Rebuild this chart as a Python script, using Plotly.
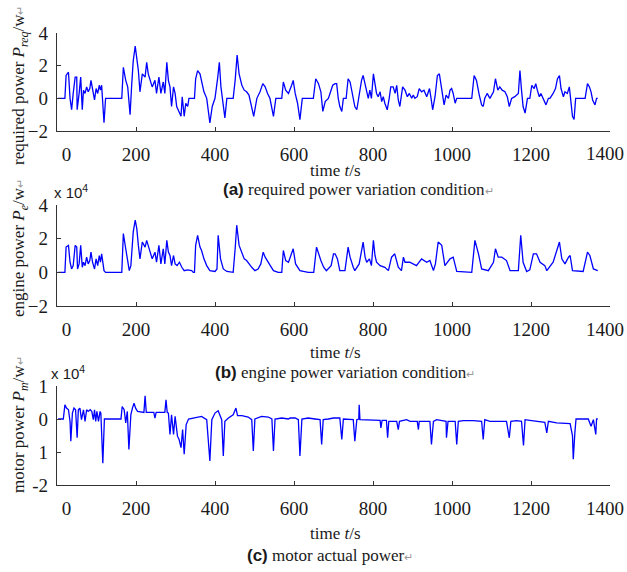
import plotly.graph_objects as go

# ---- data, power in units of 1e4 W ----
t_req = [3, 20, 23, 29, 33, 37, 41, 46, 50, 51, 56, 60, 64, 67, 71, 75, 79, 83, 86, 90, 95, 99, 103, 107, 110, 113, 119, 123, 164,
         168, 174, 179, 185, 189, 193, 198, 202, 206, 210, 216, 223, 227, 231, 235, 241, 248, 252, 258, 263, 269, 273, 278, 282,
         286, 290, 295, 299, 303, 309, 314, 317, 322, 326, 331, 334, 348,
         351, 356, 362, 366, 372, 379, 387, 393, 400, 407, 411, 415, 421, 425, 430, 446, 451, 456, 461, 468, 474, 480, 486, 493,
         498, 506, 514, 521, 527, 533, 539, 548, 554, 569, 573, 579, 586, 594, 598, 603, 609, 615, 621, 649, 655, 662, 668, 673,
         679, 687, 698, 704,
         708, 712, 716, 721, 725, 732, 737, 742, 746, 750, 754, 759, 765, 771, 775, 780, 784, 788, 792, 796, 801, 805, 809, 813,
         818, 822, 826, 830, 836, 841, 845, 851, 856, 860, 864, 868, 875, 881, 887, 892, 898, 902, 906, 912, 917, 923, 929, 936,
         943, 947, 951, 957, 963, 968, 972, 976, 980, 985, 991, 995, 999, 1003, 1008, 1012, 1050, 1056, 1062, 1069, 1075, 1079,
         1083, 1089, 1096, 1105, 1110, 1116, 1121, 1127, 1134, 1140, 1145, 1151, 1159, 1168, 1172, 1176, 1180, 1185, 1191, 1197,
         1202, 1208, 1212, 1216, 1221, 1225, 1231, 1238, 1244, 1248, 1256, 1262, 1267, 1272, 1276, 1282, 1286, 1292, 1297, 1300,
         1305, 1309, 1313, 1337, 1343, 1348, 1352, 1356, 1362, 1366, 1369]
p_req = [0, 0, 1.4, 1.6, 0, -0.7, 0.3, 1.3, 1.3, -0.7, 0.3, 1.3, -0.7, 0.5, 0.3, 0.7, 0.4, 0.6, 1.1, 0.5, -0.1, 0.6, 0.3, 0.8, 0.5, 0.8, -1.5, 0, 0,
         1.9, 1.1, 0.7, -1.0, 0.8, 2.3, 3.2, 2.5, 1.7, 0.4, 1.5, 1.3, 2.2, 1.5, 1.2, 0.7, 1.1, 0.3, 1.3, 0.3, 1.0, 0.3, 2.2, 1.1,
         0.7, -0.5, 0.7, 0.3, -0.5, -0.8, -1.1, 0.1, -1.1, -0.3, -0.5, 0, 0,
         1.2, 1.7, 1.5, 1.0, 0.4, 0, -1.5, -0.5, 0, 1.3, 2.2, 0.7, -0.3, -1.2, 0, 0, 1.1, 2.65, 1.5, 0.8, 0.5, 0.4, 0.2, -0.5,
         -1.1, 0, 0.4, 0.9, 0.7, 0.3, 0, -1.1, 0, 0, 1.0, 0.5, 0.3, 0.8, 1.1, 0.3, -0.3, -1.3, 0, 0, 1.2, 0.9, 0.4, -0.8,
         -0.2, 0, 0.8, 0.9,
         0.9, 0, -0.5, -0.8, 0, 0, 1.2, 1.0, 0.5, 0, -0.5, -0.7, 0.3, 1.1, 1.4, 0.8, 0.3, 0, 0.5, 0, 1.5, 0.8, 0.3, 0.1,
         0.4, -0.2, 0.1, -0.3, -0.7, 0, 0.7, 0.7, 0.3, 0.8, -0.1, -0.5, 0.7, 0.5, 0.1, 0.3, 0, 0.2, 0, 0.1, 0.6, 0.4, 0.5, 0.1,
         0.6, 0, -0.7, 0.1, 1.4, 1.5, 0.8, 0, -0.4, 0.2, 0, 0.5, 0.6, 0.3, -0.3, 0, 0, 1.4, 1.1, 0.2, -0.4, -0.5,
         0, 0.3, 0, 0.4, 1.2, 0.5, 0.7, 0.5, 0.4, 0.1, -0.5, 0, 0.1, 0.3, 1.7, 0.5, -0.5, -0.9, 0, 0,
         0.8, 0.6, 0.9, 0.5, 0.1, 0.3, 0, -0.4, 0, 0, 0.3, 0.6, 1.2, 1.4, 0.6, 0.1, 0.4, 0.3, 0.7, 0.1,
         -1.1, -1.3, 0, 0, 0.9, 0.7, 0.4, -0.1, -0.4, 0, 0]

t_eng = [3, 20, 23, 29, 33, 37, 41, 46, 50, 52, 56, 60, 64, 67, 71, 75, 79, 83, 86, 90, 95, 99, 103, 107, 110, 113, 119, 123, 164,
         168, 174, 179, 183, 187, 193, 198, 202, 206, 210, 216, 223, 227, 231, 235, 241, 248, 252, 258, 263, 269, 273, 278, 282,
         286, 290, 295, 299, 304, 310, 316, 322, 330, 341, 345, 348, 351, 356, 362, 366, 372, 379, 387, 400, 405, 408, 414, 421,
         430, 446, 451, 455, 461, 468, 474, 480, 486, 493, 501, 509, 516, 522, 527, 534, 540, 548, 560, 569, 573, 579, 586, 592,
         598, 604, 609, 615, 636, 650, 657, 662, 668, 675, 682, 694, 700, 704, 710, 716, 729, 737, 742, 750, 754, 765, 771, 775,
         780, 784, 791, 796, 801, 805, 809, 818, 830, 839, 847, 855, 864, 872, 877, 881, 893, 910, 923, 936, 944, 953, 958, 965,
         974, 982, 995, 1003, 1012, 1050, 1058, 1067, 1075, 1092, 1105, 1110, 1117, 1126, 1138, 1147, 1168, 1174, 1180, 1189,
         1197, 1206, 1214, 1223, 1235, 1240, 1256, 1265, 1272, 1278, 1286, 1295, 1299, 1305, 1332, 1343, 1349, 1358, 1366, 1369]
p_eng = [0, 0, 1.5, 1.6, 0.6, 0.2, 0.4, 1.6, 1.5, 0.2, 0.5, 1.6, 0.3, 0.6, 0.4, 0.9, 0.5, 0.7, 1.2, 0.6, 0.2, 0.8, 0.4, 1.0, 0.6, 1.1, 0.1, 0, 0,
         2.3, 1.4, 0.6, 0.1, 0.4, 2.4, 3.1, 2.6, 1.6, 0.8, 1.8, 1.5, 1.9, 1.6, 1.3, 0.8, 1.2, 0.6, 1.6, 0.5, 1.4, 0.5, 1.9, 1.2,
         1.0, 0.4, 1.0, 0.5, 0.4, 0.6, 0.3, 0.1, 0.15, 0.1, 0, 0, 1.6, 2.2, 1.5, 1.3, 0.8, 0.4, 0.1, 0.05, 0.2, 2.2, 0.8, 0.2,
         0.05, 0, 1.4, 2.8, 1.6, 1.1, 0.8, 0.7, 0.5, 0.3, 0.1, 0.2, 0.5, 1.2, 0.9, 0.6, 0.4, 0.1, 0, 0, 1.3, 0.7, 0.6, 1.0,
         1.4, 0.5, 0.3, 0.1, 0, 0, 1.5, 1.1, 0.7, 0.3, 0.1, 0.4, 1.1, 1.1, 0.8, 0.1, 0.1, 1.5, 0.9, 0.3, 0.1, 0.5, 1.2, 1.8,
         0.9, 0.6, 0.8, 0.4, 1.9, 1.0, 0.6, 0.4, 0.3, 0.1, 0.9, 1.1, 0.3, 0.1, 0.9, 0.6, 0.6, 0.4, 0.8, 0.6, 0.7, 0.1, 0.5, 1.8,
         1.6, 0.4, 0.8, 0.9, 0.05, 0, 1.9, 1.1, 0.2, 0.1, 0.6, 1.4, 0.9, 0.9, 0.7, 0.1, 0.1, 2.2, 0.6, 0.05,
         0.15, 1.1, 1.1, 0.6, 0.4, 0.1, 0.6, 1.3, 1.8, 0.8, 0.5, 0.9, 1.0, 0.1, 0.05, 1.2, 1.0, 0.2, 0.1, 0.1]

t_mot = [3, 16, 20, 24, 29, 33, 35, 39, 43, 47, 51, 54, 58, 62, 67, 71, 75, 79, 84, 88, 92, 95, 98, 101, 105, 109, 111, 116, 120,
         162, 165, 170, 174, 178, 182, 187, 191, 195, 199, 204, 220, 223, 226, 245, 248, 251, 273, 276, 279, 282, 286, 290, 295,
         299, 305, 309, 314, 318, 322, 327, 333, 349, 366, 379, 387, 392, 400, 408, 417, 421, 425, 434, 446, 453, 457, 468, 484,
         493, 497, 501, 518, 535, 544, 548, 552, 569, 586, 590, 603, 611, 615, 620, 636, 653, 666, 670, 674, 687, 700,
         716, 721, 725, 750, 754, 759, 764, 765, 767, 792, 818, 820, 823, 834, 837, 840, 860, 864, 867, 885, 894, 912, 915, 917,
         944, 948, 953, 961, 978, 985, 986, 990, 1008, 1012, 1016, 1029, 1054, 1075, 1079, 1083, 1096, 1113, 1138, 1145, 1149,
         1164, 1176, 1181, 1185, 1197, 1223, 1235, 1240, 1244, 1265, 1282, 1299, 1305, 1307, 1311, 1314, 1332, 1345, 1352, 1358,
         1364, 1366, 1369]
p_mot = [0, 0, 0.43, 0.33, 0.28, -0.07, -0.67, 0.18, 0.33, 0.28, -0.57, 0.28, 0.33, -0.02, 0.28, -0.07, 0.28, 0.23, 0.28, 0.23,
         -0.02, 0.28, -0.07, 0.23, -0.07, 0.23, 0.18, -1.34, 0,
         0, 0.38, 0.28, -0.12, 0.23, -0.92, 0.13, 0.33, 0.48, 0.33, 0.23, 0.2, 0.7, 0.2, 0.2, 0.03, 0.2, 0.2, 0.58, 0.2, 0.18,
         -0.47, 0.13, -0.47, 0.08, -0.52, -0.62, -0.87, -0.32, -1.07, -0.17, 0, 0.03, 0.08, -0.02, -1.27, -0.02, 0.18, 0.25,
         -0.02, -1.12, -0.07, 0.03, 0.13, 0.33, 0.1, 0.1, 0.06, -0.02, -0.97, 0, 0.08, 0.06, 0, -0.97, 0, 0.03, 0, 0.03, 0.03,
         -0.02, -1.12, 0, 0.03, 0, -0.02, -0.77, -0.02, 0, 0.03,
         0.03, -0.62, 0.0, -0.02, -0.67, -0.02, 0.0, 0.43, -0.02, -0.04, -0.04, -0.27, -0.04, -0.04, -0.57, -0.07, -0.07, -0.32,
         -0.07, -0.02, -0.07, -0.07, -0.32, -0.07, -0.07, -0.77, -0.07, -0.02, -0.05, -0.07, -0.57, -0.07, -0.07, -0.77, -0.07,
         -0.05, -0.05, -0.07, -0.62, -0.02, -0.07, -0.07, -0.07, -0.57, -0.07, -0.05, -0.07, -0.8, -0.02, -0.04, -0.07, -0.1,
         -0.42, -0.07, -0.12, -0.12, -0.14, -0.5, -1.22, -0.42, 0, 0, 0, -0.22, -0.02, -0.47, 0, 0]

x_ticks = [0, 200, 400, 600, 800, 1000, 1200, 1400]
# the last label (1400) is drawn separately so it stays inside the page
x_ticktext = ["\u00a0\u00a0\u00a0\u00a00", "200", "400", "600", "800", "1000", "1200", ""]
y_ticks_ab = [-2, 0, 2, 4]
y_ticks_c = [-2, -1, 0, 1]
y_ticktext_c = ["-2", "1", "0", "1"]

W, H = 627, 572
SERIF = "Liberation Serif"
SANS = "Liberation Sans"
BLUE = "#0000ff"

def py2y(py):
    return 1 - py / H

# panel pixel boxes: (top, bottom)
boxes = [(33, 131), (205, 306), (386, 485)]
xdom = [57 / W, 610 / W]

fig = go.Figure()
series = [(t_req, p_req), (t_eng, p_eng), (t_mot, p_mot)]
for i, (tt, pp) in enumerate(series):
    fig.add_trace(go.Scatter(x=tt, y=pp, mode="lines", line=dict(color=BLUE, width=1.3),
                             xaxis="x" if i == 0 else "x%d" % (i + 1),
                             yaxis="y" if i == 0 else "y%d" % (i + 1),
                             showlegend=False, hoverinfo="skip"))

ax_common = dict(showgrid=False, zeroline=False, showline=True, linecolor="#333333", linewidth=1.4,
                 ticks="inside", ticklen=4, tickcolor="#333333", tickwidth=1.2, automargin=False,
                 ticklabeloverflow="allow",
                 tickfont=dict(family=SERIF, size=19, color="#1a1a1a"))

layout = dict(width=W, height=H, margin=dict(l=0, r=0, t=0, b=0),
              paper_bgcolor="white", plot_bgcolor="white")
for i, (top, bot) in enumerate(boxes):
    sfx = "" if i == 0 else str(i + 1)
    layout["xaxis" + sfx] = dict(ax_common, domain=xdom, range=[0, 1400], tickvals=x_ticks, ticktext=x_ticktext,
                                 anchor="y" + sfx, ticklabelstandoff=6)
    ydict = dict(ax_common, domain=[py2y(bot), py2y(top)], anchor="x" + sfx, ticklabelstandoff=4)
    if i < 2:
        ydict.update(range=[-2, 4], tickvals=y_ticks_ab)
    else:
        ydict.update(range=[-2, 1], tickvals=y_ticks_c, ticktext=y_ticktext_c)
    layout["yaxis" + sfx] = ydict
fig.update_layout(**layout)

def ann(text, x, y, size=18, family=SERIF, angle=0, xanchor="center"):
    fig.add_annotation(text=text, x=x / W, y=py2y(y), xref="paper", yref="paper", showarrow=False,
                       xanchor=xanchor, yanchor="middle", textangle=angle,
                       font=dict(family=family, size=size, color="#1a1a1a"))

ret = '<span style="font-size:11px;color:#999999">\u21b5</span>'
# last x tick label of each panel
for y in (154, 329, 508):
    ann(str(x_ticks[-1]), 626, y, size=19, xanchor="right")
# axis titles
for y in (170, 352, 533):
    ann("time <i>t</i>/s", 335, y, size=17)
# captions
ann('<span style="font-family:Liberation Sans"><b>(a)</b></span> required power variation condition' + ret, 359, 189, size=17)
ann('<span style="font-family:Liberation Sans"><b>(b)</b></span> engine power variation condition' + ret, 345, 372, size=17)
ann('<span style="font-family:Liberation Sans"><b>(c)</b></span> motor actual power' + ret, 330, 555, size=17)
# y titles
ann("required power <i>P</i><sub><i>req</i></sub>/w" + ret, 20, 86, size=17, angle=-90)
ann("engine power <i>P</i><sub><i>e</i></sub>/w" + ret, 20, 248, size=17, angle=-90)
ann("motor power <i>P</i><sub><i>m</i></sub>/w" + ret, 20, 425, size=17, angle=-90)
# exponent labels
ann("x 10<sup>4</sup>", 52, 192, size=15, family=SANS, xanchor="left")
ann("x 10<sup>4</sup>", 49, 372, size=15, family=SANS, xanchor="left")

# drop the default 8px body margin so the figure sits at the page origin
fig.write_html("out.html", config={"displayModeBar": False},
               post_script="document.body.style.margin='0px';")
